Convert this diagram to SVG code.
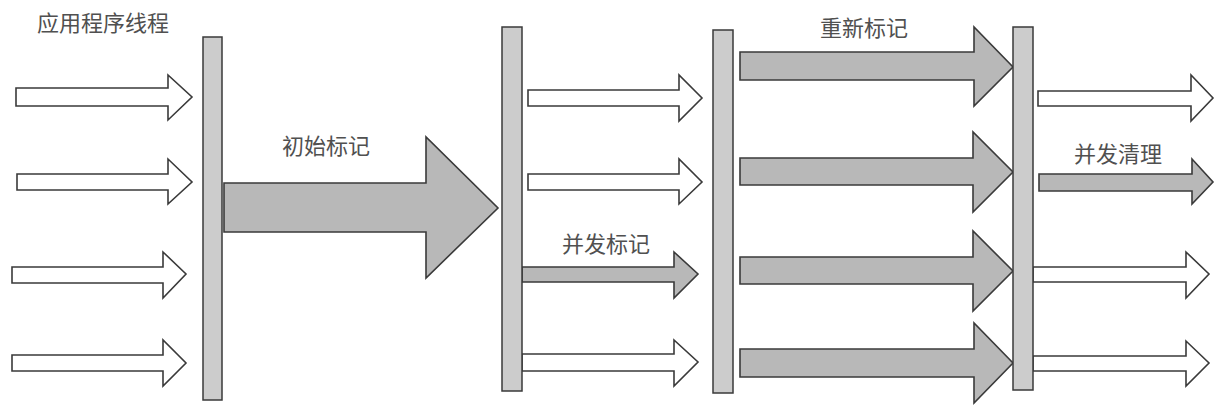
<svg xmlns="http://www.w3.org/2000/svg" width="1218" height="414" viewBox="0 0 1218 414">
<style>
.bar{fill:#cccccc;stroke:#3a3a3a;stroke-width:1.5}
.wa{fill:#ffffff;stroke:#3a3a3a;stroke-width:1.6;stroke-linejoin:miter}
.ga{fill:#b8b8b8;stroke:#3a3a3a;stroke-width:1.6;stroke-linejoin:miter}
.lbl{font-family:"Noto Sans CJK SC","Noto Sans",sans-serif;font-size:22px;fill:#505050}
</style>
<rect width="1218" height="414" fill="#ffffff"/>
<g id="labels">
<text class="lbl" x="37" y="31">应用程序线程</text>
<text class="lbl" x="282" y="154">初始标记</text>
<text class="lbl" x="562" y="252">并发标记</text>
<text class="lbl" x="820" y="36">重新标记</text>
<text class="lbl" x="1074" y="162">并发清理</text>
</g>
<g id="connectors">
<!-- column 1: application threads -->
<polygon class="wa" points="16,88 168,88 168,75 192,97 168,120 168,106 16,106"/>
<polygon class="wa" points="17,174 168,174 168,159 192,182 168,204 168,190 17,190"/>
<polygon class="wa" points="12,267 163,267 163,252 186,274 163,298 163,283 12,283"/>
<polygon class="wa" points="12,355 163,355 163,340 186,363 163,386 163,371 12,371"/>
<!-- initial mark -->
<polygon class="ga" points="224,183 426,183 426,137 498,208 426,278 426,232 224,232"/>
<!-- column 2 -->
<polygon class="wa" points="528,90 679,90 679,75 702,98 679,121 679,106 528,106"/>
<polygon class="wa" points="528,174 679,174 679,159 702,182 679,204 679,190 528,190"/>
<polygon class="ga" points="522,267 674,267 674,252 698,274 674,298 674,282 522,282"/>
<polygon class="wa" points="522,354 674,354 674,340 698,362 674,386 674,371 522,371"/>
<!-- column 3: remark -->
<polygon class="ga" points="740,52 974,52 974,27 1013,67 974,106 974,80 740,80"/>
<polygon class="ga" points="740,158 973,158 973,132 1013,172 973,212 973,185 740,185"/>
<polygon class="ga" points="740,257 973,257 973,231 1013,271 973,311 973,284 740,284"/>
<polygon class="ga" points="740,349 974,349 974,323 1013,363 974,403 974,377 740,377"/>
<!-- column 4 -->
<polygon class="wa" points="1038,91 1191,91 1191,75 1213,98 1191,121 1191,106 1038,106"/>
<polygon class="ga" points="1039,174 1192,174 1192,159 1213,182 1192,204 1192,191 1039,191"/>
<polygon class="wa" points="1033,267 1186,267 1186,252 1209,274 1186,298 1186,282 1033,282"/>
<polygon class="wa" points="1033,356 1186,356 1186,341 1209,363 1186,386 1186,371 1033,371"/>
</g>
<g id="bar1"><rect class="bar" x="203" y="37" width="19" height="363"/></g>
<g id="bar2"><rect class="bar" x="502" y="27" width="20" height="364"/></g>
<g id="bar3"><rect class="bar" x="713" y="30" width="20" height="363"/></g>
<g id="bar4"><rect class="bar" x="1013" y="27" width="20" height="363"/></g>
</svg>
